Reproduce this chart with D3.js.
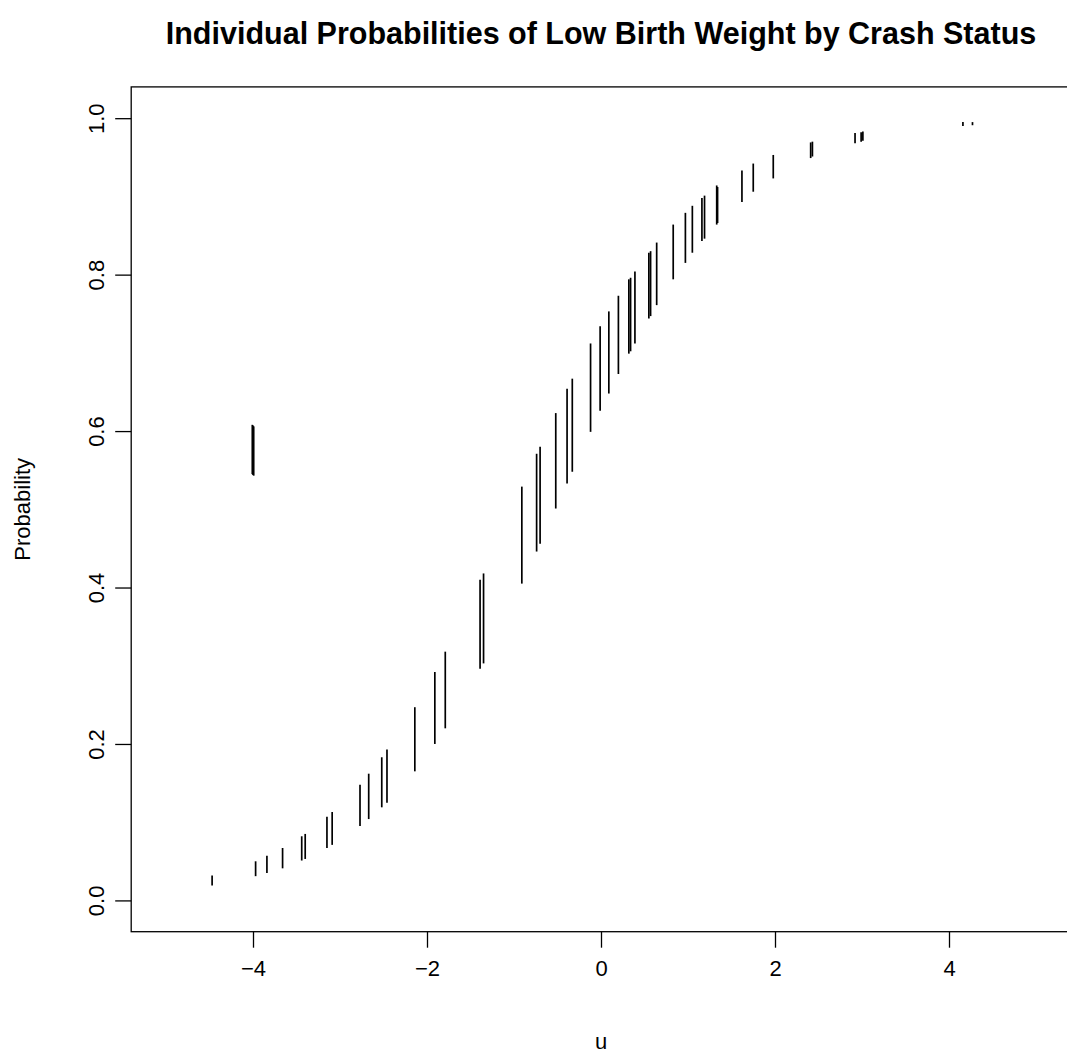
<!DOCTYPE html>
<html>
<head>
<meta charset="utf-8">
<script src="https://cdn.jsdelivr.net/npm/d3@7"></script>
<style>
  body { margin: 0; background: #fff; }
  text { font-family: "Liberation Sans", Arial, sans-serif; fill: #000; }
</style>
</head>
<body>
<div id="chart"></div>
<script>
// u position of each segment, and lower / upper probability
const uValues = [-4.47, -4.008, -4.0, -3.992, -3.97, -3.84, -3.66, -3.44, -3.40, -3.15, -3.09,
    -2.77, -2.67, -2.52, -2.46, -2.14, -1.91, -1.79, -1.39, -1.35, -0.91,
    -0.74, -0.70, -0.52, -0.39, -0.33, -0.12, -0.01, 0.09, 0.20, 0.32,
    0.34, 0.39, 0.55, 0.57, 0.64, 0.83, 0.97, 1.05, 1.16, 1.19,
    1.33, 1.34, 1.62, 1.75, 1.98, 2.41, 2.43, 2.92, 2.99, 3.01,
    4.16, 4.27];
const pLow = [0.019, 0.545, 0.544, 0.543, 0.031, 0.035, 0.041, 0.051, 0.053, 0.067, 0.071,
    0.095, 0.104, 0.119, 0.125, 0.165, 0.200, 0.220, 0.296, 0.303, 0.405,
    0.446, 0.456, 0.501, 0.533, 0.548, 0.599, 0.626, 0.648, 0.673, 0.699,
    0.702, 0.712, 0.744, 0.747, 0.761, 0.794, 0.815, 0.828, 0.843, 0.846,
    0.864, 0.866, 0.893, 0.906, 0.923, 0.949, 0.951, 0.968, 0.970, 0.971,
    0.990, 0.991];
const pHigh = [0.032, 0.608, 0.607, 0.606, 0.050, 0.057, 0.067, 0.082, 0.085, 0.107, 0.113,
    0.148, 0.162, 0.183, 0.193, 0.247, 0.292, 0.318, 0.410, 0.418, 0.529,
    0.571, 0.580, 0.623, 0.654, 0.667, 0.712, 0.734, 0.753, 0.773, 0.794,
    0.796, 0.804, 0.828, 0.830, 0.841, 0.864, 0.879, 0.888, 0.898, 0.901,
    0.914, 0.912, 0.933, 0.942, 0.953, 0.969, 0.970, 0.981, 0.982, 0.983,
    0.995, 0.995];

const xTicks = [-4, -2, 0, 2, 4];
const yTicks = [0, 0.2, 0.4, 0.6, 0.8, 1.0];

var width = 1067, height = 1057;
var box = {left: 131.2, right: 1070.8, top: 86.9, bottom: 931.7};

var x = d3.scaleLinear().domain([-5.4, 5.4]).range([box.left, box.right]);
var y = d3.scaleLinear().domain([-0.04, 1.04]).range([box.bottom, box.top]);

var svg = d3.select("#chart").append("svg")
    .attr("width", width)
    .attr("height", height);

svg.append("rect")
    .attr("width", width)
    .attr("height", height)
    .attr("fill", "#fff");

// vertical segments
var segs = uValues.map((u, i) => ({u: u, lo: pLow[i], hi: pHigh[i]}));
svg.selectAll("line.seg")
    .data(segs).enter().append("line")
        .attr("class", "seg")
        .attr("x1", d => x(d.u))
        .attr("x2", d => x(d.u))
        .attr("y1", d => y(d.lo))
        .attr("y2", d => y(d.hi))
        .attr("stroke", "#000")
        .attr("stroke-width", 1.7);

// plot box
svg.append("rect")
    .attr("x", box.left)
    .attr("y", box.top)
    .attr("width", box.right - box.left)
    .attr("height", box.bottom - box.top)
    .attr("fill", "none")
    .attr("stroke", "#000")
    .attr("stroke-width", 1.3);

// x axis
var xAxis = svg.append("g")
    .attr("transform", `translate(0, ${box.bottom})`)
    .call(d3.axisBottom(x)
        .tickValues(xTicks)
        .tickSize(16)
        .tickPadding(13)
        .tickFormat(d => d < 0 ? "\u2212" + Math.abs(d) : d));
xAxis.select(".domain").remove();
xAxis.selectAll("line").attr("stroke-width", 1.3);
xAxis.selectAll("text")
    .attr("font-size", 22)
    .attr("font-family", "Liberation Sans, Arial, sans-serif");

// y axis, labels turned like R does
var yAxis = svg.append("g")
    .attr("transform", `translate(${box.left}, 0)`)
    .call(d3.axisLeft(y)
        .tickValues(yTicks)
        .tickSize(16)
        .tickFormat(d3.format(".1f")));
yAxis.select(".domain").remove();
yAxis.selectAll("line").attr("stroke-width", 1.3);
yAxis.selectAll("text")
    .attr("x", 0)
    .attr("dy", 0)
    .attr("text-anchor", "middle")
    .attr("transform", "translate(-27, 0) rotate(-90)")
    .attr("font-size", 22)
    .attr("font-family", "Liberation Sans, Arial, sans-serif");

// axis titles
svg.append("text")
    .attr("x", (box.left + box.right) / 2)
    .attr("y", 1049)
    .attr("text-anchor", "middle")
    .attr("font-size", 22)
    .text("u");

svg.append("text")
    .attr("transform", `translate(30, ${(box.top + box.bottom) / 2}) rotate(-90)`)
    .attr("text-anchor", "middle")
    .attr("font-size", 22)
    .text("Probability");

// title
svg.append("text")
    .attr("x", (box.left + box.right) / 2)
    .attr("y", 44)
    .attr("text-anchor", "middle")
    .attr("font-size", 30.5)
    .attr("font-weight", "bold")
    .text("Individual Probabilities of Low Birth Weight by Crash Status");
</script>
</body>
</html>
